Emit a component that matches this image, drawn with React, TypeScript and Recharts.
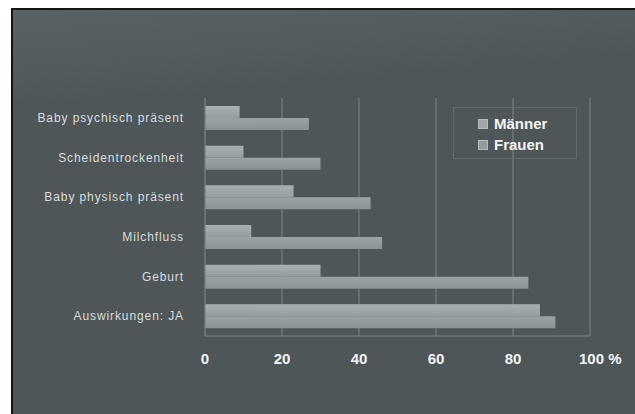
import { Bar, BarChart, CartesianGrid, Legend, XAxis, YAxis } from 'recharts';

const categories = [
  'Baby psychisch präsent',
  'Scheidentrockenheit',
  'Baby physisch präsent',
  'Milchfluss',
  'Geburt',
  'Auswirkungen: JA',
];
const maenner = [9, 10, 23, 12, 30, 87];
const frauen = [27, 30, 43, 46, 84, 91];
const xTicks = [0, 20, 40, 60, 80, 100];

const COLORS = {
  bg: '#4e5658',
  grid: '#7c8587',
  label: '#d9dddd',
  tick: '#f2f4f4',
  maenner: '#a0a7a8',
  frauen: '#939a9c',
};

const rows = categories.map((name, i) => ({ name, maenner: maenner[i], frauen: frauen[i] }));

function XTick({ x, y, payload }: any) {
  const v = payload.value;
  if (v === 100) {
    return (
      <text x={x - 11} y={y + 28} fill={COLORS.tick} fontSize={15} fontWeight="bold" textAnchor="start">
        100 %
      </text>
    );
  }
  return (
    <text x={x} y={y + 28} fill={COLORS.tick} fontSize={15} fontWeight="bold" textAnchor="middle">
      {v}
    </text>
  );
}

function LegendBox() {
  const items = [
    { label: 'Männer', color: COLORS.maenner },
    { label: 'Frauen', color: COLORS.frauen },
  ];
  return (
    <div
      style={{
        width: 124,
        height: 52,
        border: '1px solid #616b6d',
        boxSizing: 'border-box',
        paddingTop: 5,
        paddingLeft: 24,
      }}
    >
      {items.map((it) => (
        <div key={it.label} style={{ display: 'flex', alignItems: 'center', height: 21 }}>
          <span
            style={{
              width: 8,
              height: 8,
              background: it.color,
              border: '1px solid #b5bcbd',
              marginRight: 6,
              display: 'inline-block',
            }}
          />
          <span style={{ color: COLORS.tick, fontSize: 15, fontWeight: 'bold' }}>{it.label}</span>
        </div>
      ))}
    </div>
  );
}

export default function App() {
  return (
    <div style={{ position: 'absolute', left: 0, top: 0, width: 635, height: 414, background: '#fff' }}>
      <div
        style={{
          position: 'absolute',
          left: 11,
          top: 8,
          width: 624,
          height: 406,
          borderLeft: '2px solid #151515',
          borderTop: '2px solid #151515',
          boxSizing: 'border-box',
          background: `linear-gradient(175deg, #5a6264 0%, #535b5d 14%, ${COLORS.bg} 22%, ${COLORS.bg} 100%)`,
        }}
      />
      <div style={{ position: 'absolute', left: 0, top: 0, fontFamily: '"Liberation Sans", Arial, sans-serif' }}>
        <BarChart
          width={635}
          height={414}
          data={rows}
          layout="vertical"
          margin={{ top: 98, right: 45, bottom: 48, left: 10 }}
          barSize={12}
          barGap={0}
        >
          <defs>
            <linearGradient id="gM" x1="0" y1="0" x2="0" y2="1">
              <stop offset="0%" stopColor="#a9b0b1" />
              <stop offset="100%" stopColor="#969d9f" />
            </linearGradient>
            <linearGradient id="gF" x1="0" y1="0" x2="0" y2="1">
              <stop offset="0%" stopColor="#9ca3a4" />
              <stop offset="100%" stopColor="#8a9294" />
            </linearGradient>
          </defs>
          <CartesianGrid horizontal={false} stroke={COLORS.grid} />
          <XAxis
            type="number"
            domain={[0, 100]}
            ticks={xTicks}
            height={30}
            tickSize={0}
            tickMargin={0}
            tick={<XTick />}
            axisLine={{ stroke: COLORS.grid }}
            tickLine={false}
          />
          <YAxis
            type="category"
            dataKey="name"
            width={195}
            tickSize={0}
            tickMargin={21}
            tickLine={false}
            axisLine={{ stroke: '#6f7779' }}
            tick={{ fill: COLORS.label, fontSize: 12, letterSpacing: 0.9 }}
          />
          <Legend
            layout="horizontal"
            verticalAlign="middle"
            align="center"
            wrapperStyle={{ position: 'absolute', left: 453, top: 107, width: 124, height: 52 }}
            content={() => <LegendBox />}
          />
          <Bar dataKey="maenner" name="Männer" fill="url(#gM)" isAnimationActive={false} />
          <Bar dataKey="frauen" name="Frauen" fill="url(#gF)" isAnimationActive={false} />
        </BarChart>
      </div>
    </div>
  );
}
